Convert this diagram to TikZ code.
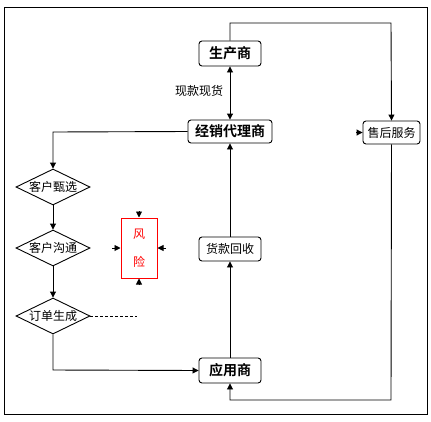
\documentclass[tikz,border=0pt]{standalone}
\usepackage{fontspec}
\newfontfamily\cjk{Noto Sans CJK SC}
\newfontfamily\cjkb{Noto Sans CJK SC Bold}
\usetikzlibrary{arrows.meta,shapes.geometric}
\begin{document}
\begin{tikzpicture}[x=1pt,y=-1pt,
  every node/.style={font=\cjk\fontsize{12}{14}\selectfont},
  line/.style={draw=black,line width=0.9pt},
  arr/.style={line,-{Triangle[length=6pt,width=6pt]}},
  rbox/.style={draw=black,line width=0.9pt,rounded corners=3pt,inner sep=0pt,align=center},
  bbox/.style={rbox,font=\cjkb\fontsize{14}{16}\selectfont},
  dia/.style={draw=black,line width=0.9pt,diamond,aspect=2,inner sep=0pt,minimum width=74pt,minimum height=36pt},
  riskbox/.style={draw=red,line width=1pt,text=red,inner sep=0pt,minimum width=36pt,minimum height=60pt}
]
\useasboundingbox (0,0) rectangle (431,421);
\draw[line] (4.5,7.5) rectangle (427,414.5);

\node[bbox,minimum width=62pt,minimum height=25pt] (sc) at (230,53.5) {生产商};
\node[bbox,minimum width=84pt,minimum height=23pt] (jx) at (230,131.5) {经销代理商};
\node[rbox,minimum width=57pt,minimum height=23pt] (sh) at (391.5,132.5) {售后服务};
\node[rbox,minimum width=62pt,minimum height=24pt] (hk) at (230,249) {货款回收};
\node[bbox,minimum width=62pt,minimum height=25pt] (yy) at (230,370.5) {应用商};
\node[riskbox] (fx) at (139,248) {};
\node[text=red] (f1) at (139,234) {风};
\node[text=red] (f2) at (139,262) {险};
\node[dia] (k1) at (53,187) {客户甄选};
\node[dia] (k2) at (53,248) {客户沟通};
\node[dia] (dd) at (53,316) {订单生成};
\node (xk) at (199,91) {现款现货};

\coordinate (c1) at (230,23);
\coordinate (c2) at (391,23);
\coordinate (c3) at (53,132);
\coordinate (c4) at (53,370);
\coordinate (c5) at (137,316);
\coordinate (c6) at (391,400);
\coordinate (c7) at (230,400);
\coordinate (s0) at (356,132.5);
\coordinate (r1) at (139,211);
\coordinate (r2) at (139,285);
\coordinate (r3) at (112,248);
\coordinate (r4) at (166,248);

\draw[arr] (sc.north) -- (c1) -- (c2) -- (sh.north);
\draw[line,{Triangle[length=6pt,width=6pt]}-{Triangle[length=6pt,width=6pt]}] (sc.south) -- (jx.north);
\draw[arr] (jx.west) -- (c3) -- (k1.north);
\draw[arr] (k1.south) -- (k2.north);
\draw[arr] (k2.south) -- (dd.north);
\draw[arr] (dd.south) -- (c4) -- (yy.west);
\draw[line,dash pattern=on 3pt off 2pt] (dd.east) -- (c5);
\draw[arr] (yy.north) -- (hk.south);
\draw[arr] (hk.north) -- (jx.south);
\draw[arr] (sh.south) -- (c6) -- (c7) -- (yy.south);
\draw[arr] (s0) -- (sh.west);
\draw[arr] (r1) -- (fx.north);
\draw[arr] (r2) -- (fx.south);
\draw[arr] (r3) -- (fx.west);
\draw[arr] (r4) -- (fx.east);
\end{tikzpicture}
\end{document}
